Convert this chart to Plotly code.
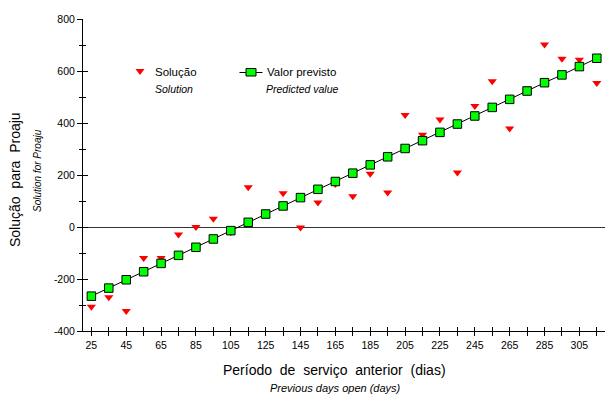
import plotly.graph_objects as go

# Previous days open (x) and the two series
days = [25, 35, 45, 55, 65, 75, 85, 95, 105, 115, 125, 135, 145, 155, 165,
        175, 185, 195, 205, 215, 225, 235, 245, 255, 265, 275, 285, 295, 305, 315]
solution = [-307, -270, -323, -119, -119, -29, 0, 32, -20, 153, 48, 130, -2, 94, 165,
            118, 205, 133, 431, 355, 413, 210, 465, 561, 379, 533, 702, 647, 643, 554]
predicted = [-266, -235, -203, -172, -140, -109, -78, -46, -14, 18, 50, 81, 113, 145, 175,
             207, 239, 270, 302, 332, 364, 396, 427, 460, 491, 523, 555, 585, 617, 649]

x_ticks = list(range(25, 316, 10))
x_labels = [str(v) if (v - 25) % 20 == 0 else "" for v in x_ticks]
y_ticks = [-400, -200, 0, 200, 400, 600, 800]
y_labels = ["-400", "-200", "0", "200", "400", "600", "800"]

W, H = 605, 396
L, R, T, B = 83, 0, 19, 65
FONT = "Liberation Sans, Arial, sans-serif"
RED = "#ff0000"
GREEN = "#00ff00"


def px(x):
    return (x - L) / (W - L - R)


def py(y):
    return (H - B - y) / (H - T - B)


fig = go.Figure()

fig.add_trace(go.Scatter(
    x=days, y=solution, mode="markers", name="Solução",
    marker=dict(symbol="triangle-down", size=8, color=RED, line=dict(width=0)),
    showlegend=False, cliponaxis=False,
))
fig.add_trace(go.Scatter(
    x=days, y=predicted, mode="lines+markers", name="Valor previsto",
    line=dict(color="black", width=1),
    marker=dict(symbol="square", size=8.5, color=GREEN, line=dict(color="black", width=1)),
    showlegend=False, cliponaxis=False,
))

x_range = [20.2, 319.7]
y_range = [-400, 800]

fig.update_layout(
    width=W, height=H,
    margin=dict(l=L, r=R, t=T, b=B),
    paper_bgcolor="white", plot_bgcolor="white",
    font=dict(family=FONT, color="black"),
    xaxis=dict(
        range=x_range, tickvals=x_ticks, ticktext=x_labels,
        ticks="outside", ticklen=4, tickwidth=1, tickcolor="black",
        showline=True, linecolor="black", linewidth=1,
        showgrid=False, zeroline=False,
        tickfont=dict(size=10.5, family=FONT, color="black"),
    ),
    xaxis2=dict(
        range=x_range, overlaying="x", tickvals=x_ticks,
        ticks="inside", ticklen=4, tickwidth=1, tickcolor="black",
        showticklabels=False, showgrid=False, zeroline=False, showline=False,
        side="bottom",
    ),
    yaxis=dict(
        range=y_range, tickvals=y_ticks, ticktext=y_labels,
        ticks="outside", ticklen=5, tickwidth=1, tickcolor="black",
        minor=dict(dtick=100, tick0=0, ticks="outside", ticklen=3, tickcolor="black", tickwidth=1),
        showline=True, linecolor="black", linewidth=1,
        showgrid=False,
        zeroline=True, zerolinecolor="#333333", zerolinewidth=1,
        tickfont=dict(size=10.5, family=FONT, color="black"),
    ),
    yaxis2=dict(
        range=y_range, overlaying="y", tickvals=y_ticks,
        ticks="inside", ticklen=5, tickwidth=1, tickcolor="black",
        minor=dict(dtick=100, tick0=0, ticks="inside", ticklen=3, tickcolor="black", tickwidth=1),
        showticklabels=False, showgrid=False, zeroline=False, showline=False,
        side="left",
    ),
)

# invisible carrier so the overlay axes are drawn
fig.add_trace(go.Scatter(x=[None], y=[None], xaxis="x2", yaxis="y2",
                         showlegend=False, hoverinfo="skip"))

sp = "\u00a0\u00a0"
annotations = [
    dict(text=f"Período{sp}de{sp}serviço{sp}anterior{sp}(dias)", x=px(334.5), y=py(370),
         font=dict(size=14)),
    dict(text="<i>Previous days open (days)</i>", x=px(335.5), y=py(388),
         font=dict(size=11)),
    dict(text=f"Solução{sp}para{sp}Proaju", x=px(15), y=py(180), textangle=-90,
         font=dict(size=14)),
    dict(text="<i>Solution for Proaju</i>", x=px(37), y=py(171), textangle=-90,
         font=dict(size=10)),
    dict(text="Solução", x=px(175.5), y=py(72), font=dict(size=11.5)),
    dict(text="<i>Solution</i>", x=px(174), y=py(89.5), font=dict(size=10.5)),
    dict(text="Valor previsto", x=px(301), y=py(72), font=dict(size=11.5)),
    dict(text="<i>Predicted value</i>", x=px(302.5), y=py(89.5), font=dict(size=10.5)),
]
for a in annotations:
    a.update(xref="paper", yref="paper", showarrow=False, xanchor="center", yanchor="middle")
    a["font"].update(family=FONT, color="black")
fig.update_layout(annotations=annotations)

# legend keys
tri = (f"M {px(135.5)} {py(69)} L {px(144.5)} {py(69)} L {px(140)} {py(75)} Z")
shapes = [
    dict(type="path", path=tri, fillcolor=RED, line=dict(width=0)),
    dict(type="line", x0=px(239.5), x1=px(262.5), y0=py(72.5), y1=py(72.5),
         line=dict(color="black", width=1)),
    dict(type="rect", x0=px(246), x1=px(256), y0=py(68.5), y1=py(76),
         fillcolor=GREEN, line=dict(color="black", width=1)),
]
for s in shapes:
    s.update(xref="paper", yref="paper")
fig.update_layout(shapes=shapes)

fig.write_html("out.html")
